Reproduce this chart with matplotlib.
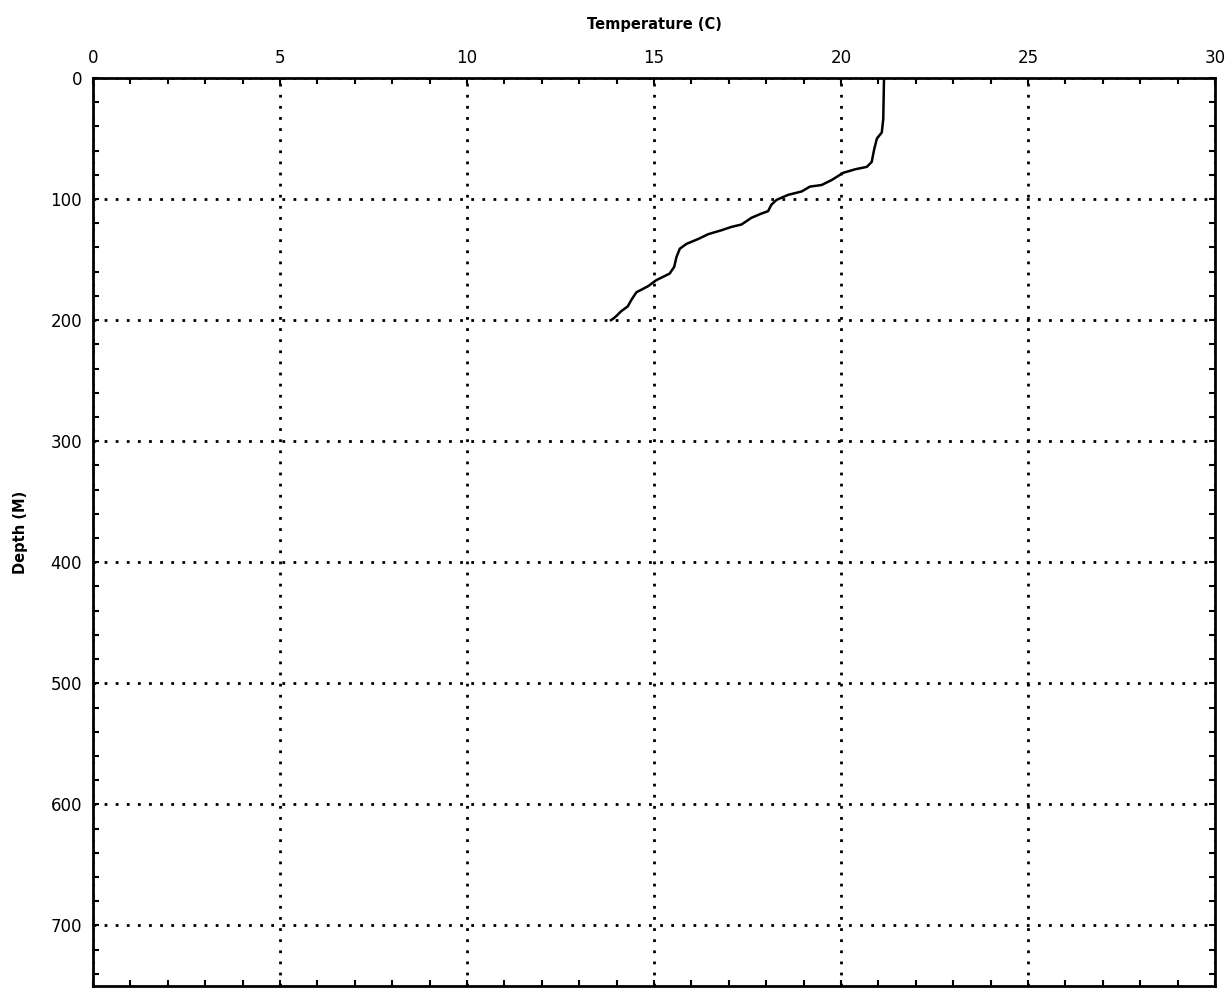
import matplotlib
matplotlib.use('Agg')
import matplotlib.pyplot as plt
from matplotlib.ticker import MultipleLocator

# temperature profile
temperature = [21.15, 21.13, 21.09, 20.96, 20.89, 20.82, 20.69, 20.38, 20.06, 19.75,
               19.48, 19.17, 18.95, 18.59, 18.28, 18.14, 18.05, 17.87, 17.61, 17.34,
               17.07, 16.80, 16.45, 16.18, 15.87, 15.69, 15.60, 15.54, 15.42, 15.06,
               14.84, 14.53, 14.40, 14.30, 14.12, 13.99, 13.90, 13.85]
depth = [0, 34, 45, 50, 58.5, 69.4, 73.4, 75.4, 78.3, 84.3,
         88.4, 89.7, 93.7, 96.5, 100.6, 104.6, 110, 112, 115.4, 121,
         123, 125.8, 129, 133, 137, 141, 148, 156, 161.5, 167,
         172, 177, 183, 188.6, 192.7, 196.7, 199, 200]

x_ticks = [0, 5, 10, 15, 20, 25, 30]
y_ticks = [0, 100, 200, 300, 400, 500, 600, 700]

fig = plt.figure(figsize=(12.31, 9.94), dpi=100)
ax = fig.add_axes([93 / 1231, 1 - 986 / 994, (1215 - 93) / 1231, (986 - 78) / 994])

ax.plot(temperature, depth, color='black', linewidth=1.8)

ax.set_xlim(0, 30)
ax.set_ylim(750, 0)
ax.xaxis.tick_top()
ax.xaxis.set_label_position('top')
ax.set_xticks(x_ticks)
ax.set_yticks(y_ticks)
ax.xaxis.set_minor_locator(MultipleLocator(1))
ax.yaxis.set_minor_locator(MultipleLocator(20))
ax.tick_params(which='both', direction='in', top=True, bottom=True, left=True, right=True,
               width=1.5, labelsize=12, labelbottom=False, labeltop=True)
ax.tick_params(which='major', length=4, pad=8)
ax.tick_params(which='minor', length=4)

ax.grid(True, which='major', color='black', linestyle=(0, (1, 3)), linewidth=2)

for s in ax.spines.values():
    s.set_linewidth(2)

ax.set_xlabel('Temperature (C)', fontsize=10.5, fontweight='bold', labelpad=14)
ax.set_ylabel('Depth (M)', fontsize=10.5, fontweight='bold', labelpad=16)

plt.savefig('out.png', dpi=100)
